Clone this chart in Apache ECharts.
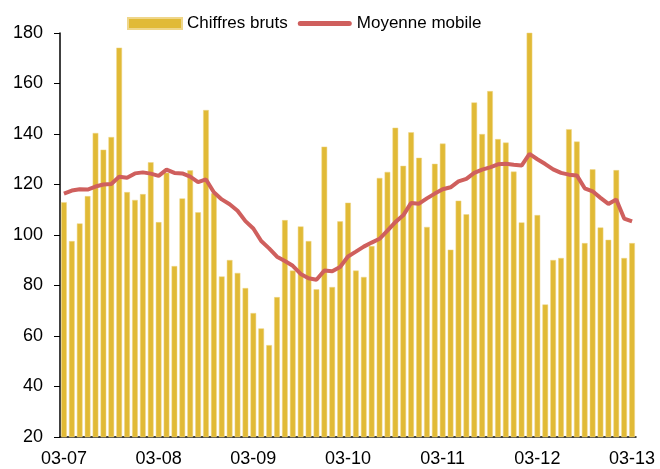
<!DOCTYPE html>
<html>
<head>
<meta charset="utf-8">
<script src="https://cdn.jsdelivr.net/npm/echarts@6/dist/echarts.min.js"></script>
<style>
  html, body { margin: 0; padding: 0; background: #fff; }
  #chart { width: 660px; height: 469px; }
</style>
</head>
<body>
<div id="chart"></div>
<script>
  // mois de 03-07 a 03-13 (73 points)
  let years = ['07', '08', '09', '10', '11', '12', '13']
  let months = []
  years.forEach(function (y, i) {
    let n = i < years.length - 1 ? 12 : 1
    for (let m = 0; m < n; m++) {
      let mm = (m + 3) > 12 ? m + 3 - 12 : m + 3
      months.push(('0' + mm).slice(-2) + '-' + y + '-' + m)
    }
  })

  let chiffresBruts = [
    113, 97.6, 104.6, 115.4, 140.4, 133.8, 138.8, 174.2, 117, 113.9, 116.2, 128.8,
    105.1, 124.7, 87.7, 114.5, 125.6, 109, 149.5, 116.5, 83.6, 90.1, 85, 79,
    69.1, 63, 56.4, 75.4, 105.9, 85.9, 103.4, 97.6, 78.5, 135, 79.4, 105.4,
    112.8, 85.9, 83.4, 95.6, 122.6, 125, 142.5, 127.4, 140.7, 130.6, 103.2, 128.2,
    136.2, 94.2, 113.6, 108.2, 152.5, 140, 157, 138, 136.6, 125.1, 105, 180.4,
    107.9, 72.5, 90.1, 90.9, 141.9, 137, 96.8, 126, 103, 98.1, 125.7, 90.9,
    96.8
  ]

  let moyenneMobile = [
    116.4, 117.6, 118.1, 118, 119.2, 120, 120.2, 123.1, 122.7, 124.4, 124.8, 124.3,
    123.4, 125.9, 124.6, 124.4, 123.1, 120.9, 122, 116.9, 114.1, 112.2, 109.6, 105.5,
    102.6, 97.6, 94.7, 91.4, 89.7, 87.8, 84.6, 82.9, 82.3, 85.9, 85.6, 87.3,
    91.5, 93.4, 95.4, 97, 98.5, 101.7, 105.1, 107.8, 112.7, 112.4, 114.5, 116.4,
    118.1, 118.9, 121.2, 122.2, 124.6, 125.9, 126.8, 128,
    128.2, 127.8, 127.5, 132.1, 130, 128.1, 126, 124.6, 123.9, 123.6, 118.5, 117.3,
    114.7, 112.3, 114.1, 106.5, 105.4
  ]

  let myChart = echarts.init(document.getElementById('chart'))
  let font = 'Liberation Sans, Arial, sans-serif'
  let barColor = '#E1BA36'
  let lineColor = '#CF5F5D'

  myChart.setOption({
    animation: false,
    textStyle: { fontFamily: font },
    legend: {
      left: 122,
      top: 10,
      itemWidth: 54,
      itemHeight: 11,
      itemGap: 10,
      textStyle: { color: '#000', fontSize: 17, fontFamily: font },
      data: [
        { name: 'Chiffres bruts', icon: 'rect' },
        // trait epais aux bouts arrondis
        { name: 'Moyenne mobile', icon: 'path://M0,0M54,11M2.5,3L51.5,3A2.5,2.5,0,0,1,51.5,8L2.5,8A2.5,2.5,0,0,1,2.5,3Z' }
      ]
    },
    grid: {
      left: 60,
      right: 24,
      top: 33,
      bottom: 32,
      containLabel: false
    },
    xAxis: {
      type: 'category',
      data: months,
      boundaryGap: true,
      axisLine: { lineStyle: { color: '#000', width: 1.5 } },
      axisTick: { interval: 11, length: 5, lineStyle: { color: '#000' } },
      axisLabel: {
        interval: 11,
        color: '#000',
        fontSize: 18,
        fontFamily: font,
        margin: 13,
        formatter: function (v) {
          return v.slice(0, 5)
        }
      }
    },
    yAxis: {
      type: 'value',
      min: 20,
      max: 180,
      interval: 20,
      splitLine: { show: false },
      axisLine: { show: true, lineStyle: { color: '#000', width: 1.5 } },
      axisTick: { show: true, length: 6, lineStyle: { color: '#000' } },
      axisLabel: { color: '#000', fontSize: 18, fontFamily: font, margin: 17 }
    },
    series: [
      {
        name: 'Chiffres bruts',
        type: 'bar',
        data: chiffresBruts,
        barWidth: '72%',
        itemStyle: { color: barColor, borderColor: '#EFD68A', borderWidth: 0.5 }
      },
      {
        name: 'Moyenne mobile',
        type: 'line',
        data: moyenneMobile,
        symbol: 'none',
        lineStyle: { color: lineColor, width: 4 },
        itemStyle: { color: lineColor }
      }
    ]
  })
</script>
</body>
</html>
